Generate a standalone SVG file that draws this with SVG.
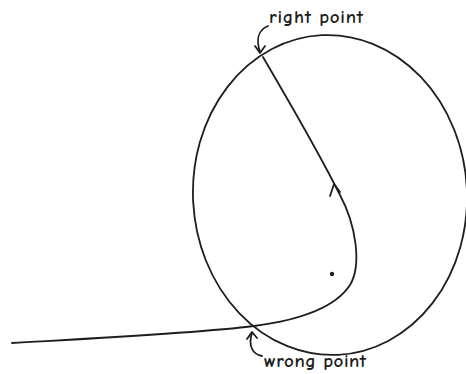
<svg xmlns="http://www.w3.org/2000/svg" width="466" height="374" viewBox="0 0 466 374">
<style>
.ln{fill:none;stroke:#1e1e1e;stroke-width:1.8;stroke-linecap:round;stroke-linejoin:round}
.lbl{font-family:"Comic Neue","Liberation Sans",sans-serif;font-size:19px;font-weight:700;fill:#1e1e1e}
</style>
<rect width="466" height="374" fill="#fff"/>
<g id="circle">
<ellipse class="ln" cx="330" cy="195" rx="137" ry="160" transform="rotate(-3 330 195)"/>
</g>
<g id="center">
<circle cx="332" cy="274" r="2.2" fill="#1e1e1e"/>
</g>
<g id="connectors">
<path class="ln" d="M12,343 C100,338 200,333 254,326 C300,320 335,308 350,285 C362,265 356,225 340,195 C315,145 285,95 263,57"/>
<path class="ln" d="M330,196 L334,184 L340,192"/>
<path class="ln" d="M268,26 C258,30 256,40 260,52"/>
<path class="ln" d="M255,46 L260,53 L265,46"/>
<path class="ln" d="M262,356 C252,354 248,345 252,333"/>
<path class="ln" d="M247,339 L252,332 L257,338"/>
</g>
<g id="label-right">
<text class="lbl" x="269" y="23" textLength="94" lengthAdjust="spacing">right point</text>
</g>
<g id="label-wrong">
<text class="lbl" x="264" y="367" textLength="102" lengthAdjust="spacing">wrong point</text>
</g>
</svg>
